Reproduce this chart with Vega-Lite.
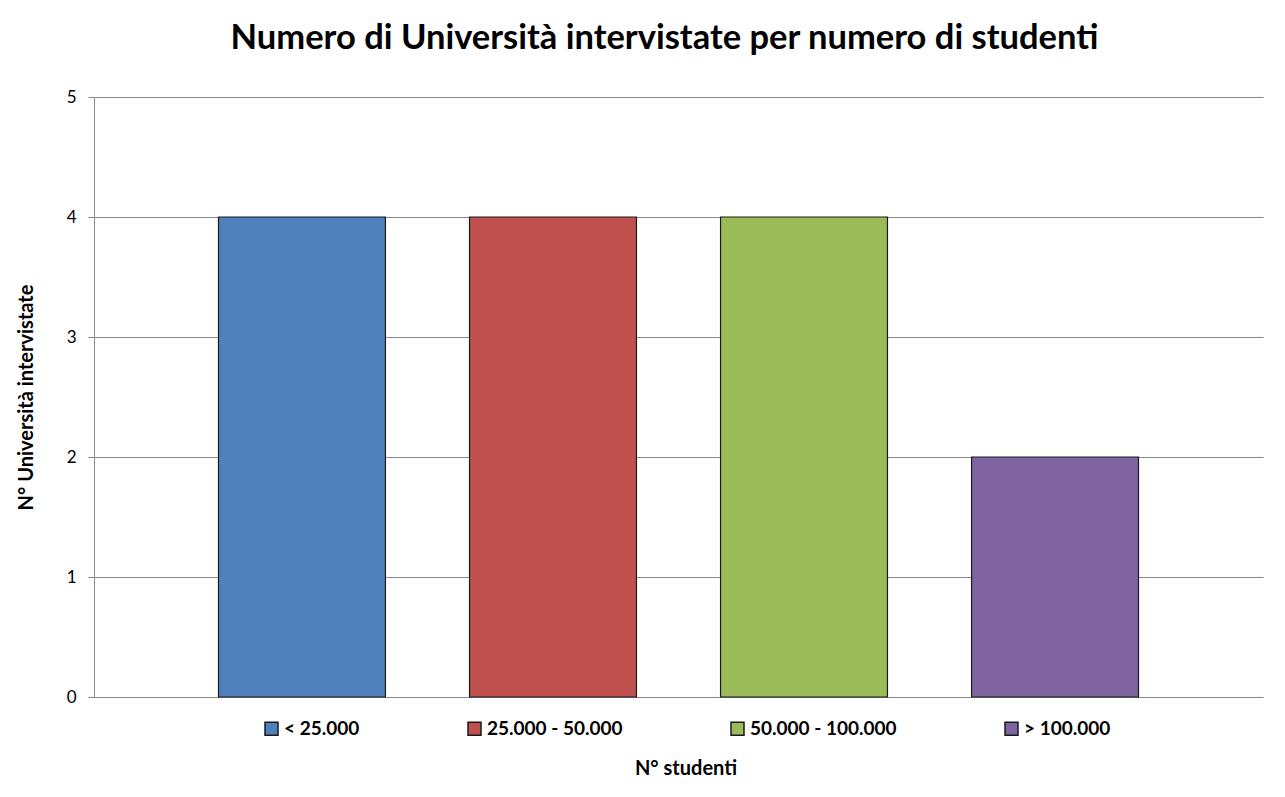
{
  "$schema": "https://vega.github.io/schema/vega-lite/v6.json",
  "autosize": {"type": "none"},
  "width": 1169,
  "height": 600,
  "padding": {"left": 94, "top": 97, "right": 22, "bottom": 100},
  "background": "white",
  "title": {
    "text": "Numero di Università intervistate per numero di studenti",
    "font": "Lato",
    "fontSize": 34.5,
    "fontWeight": "bold",
    "color": "#000000",
    "anchor": "middle",
    "dx": -14,
    "offset": 32
  },
  "data": {
    "values": [
      {"fascia": "< 25.000", "universita": 4},
      {"fascia": "25.000 - 50.000", "universita": 4},
      {"fascia": "50.000 - 100.000", "universita": 4},
      {"fascia": "> 100.000", "universita": 2}
    ]
  },
  "mark": {"type": "bar", "stroke": "#1a1a1a", "strokeWidth": 1.2},
  "encoding": {
    "x": {
      "field": "fascia",
      "type": "nominal",
      "sort": null,
      "scale": {"paddingInner": 0.335, "paddingOuter": 0.496},
      "axis": null
    },
    "y": {
      "field": "universita",
      "type": "quantitative",
      "scale": {"domain": [0, 5], "nice": false},
      "axis": {
        "title": "N° Università intervistate",
        "values": [0, 1, 2, 3, 4, 5],
        "format": "d",
        "titleFont": "Lato",
        "titleFontSize": 20,
        "titleFontWeight": "bold",
        "titleColor": "#000000",
        "titlePadding": 30,
        "labelFont": "Lato",
        "labelFontSize": 17,
        "labelColor": "#000000",
        "labelPadding": 12,
        "tickSize": 6,
        "tickColor": "#888888",
        "domainColor": "#888888",
        "gridColor": "#888888",
        "grid": true
      }
    },
    "fill": {
      "field": "fascia",
      "type": "nominal",
      "sort": null,
      "scale": {
        "domain": ["< 25.000", "25.000 - 50.000", "50.000 - 100.000", "> 100.000"],
        "range": ["#4F81BD", "#C0504D", "#9BBB59", "#8064A2"]
      },
      "legend": {
        "title": "N° studenti",
        "orient": "none",
        "legendX": 168,
        "legendY": 622,
        "direction": "horizontal",
        "titleOrient": "bottom",
        "titleAnchor": "middle",
        "titleFont": "Lato",
        "titleFontSize": 20,
        "titleFontWeight": "bold",
        "titleColor": "#000000",
        "titlePadding": 20,
        "labelFont": "Lato",
        "labelFontSize": 19,
        "labelFontWeight": "bold",
        "labelColor": "#000000",
        "labelOffset": 3,
        "symbolType": "square",
        "symbolSize": 169,
        "symbolStrokeColor": "#1a1a1a",
        "symbolStrokeWidth": 1.5,
        "columnPadding": 105
      }
    }
  },
  "config": {
    "view": {"stroke": null}
  }
}
